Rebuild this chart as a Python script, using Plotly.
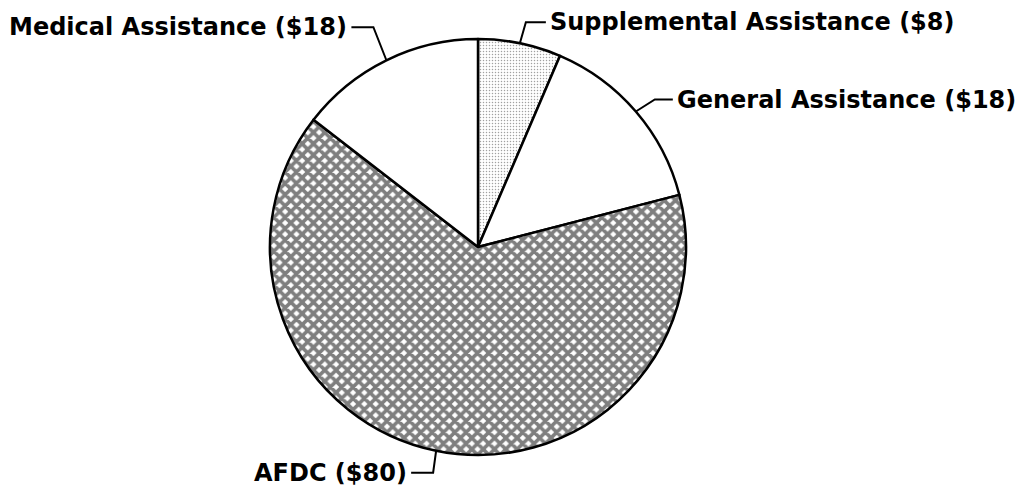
import math
import plotly.graph_objects as go

labels = ["Supplemental Assistance", "General Assistance", "AFDC", "Medical Assistance"]
values = [8, 18, 80, 18]
label_text = [f"{l} (${v})" for l, v in zip(labels, values)]

W, H = 1025, 492
OFF = 8  # page body margin offset
CX, CY, R = 478 - OFF, 247 - OFF, 208

pattern = dict(
    shape=[".", "", "x", ""],
    size=[3, 8, 8, 8],
    solidity=[0.2, 0.3, 0.7, 0.3],
    fgcolor=["#444444", "white", "black", "white"],
    bgcolor=["white", "white", "white", "white"],
    fillmode="overlay",
)

fig = go.Figure(go.Pie(
    labels=labels, values=values, sort=False, direction="clockwise", rotation=0,
    textinfo="none", hoverinfo="label+value",
    marker=dict(colors=["white"] * 4, pattern=pattern, line=dict(color="black", width=2.5)),
    domain=dict(x=[(CX - R) / W, (CX + R) / W], y=[(H - CY - R) / H, (H - CY + R) / H]),
    showlegend=False,
))

# leader geometry: (elbow dx, elbow dy, end dx, text anchor)
leader_style = [
    (6, -21, 20, "left"),
    (19, -12, 18, "left"),
    (-3, 22, -22, "right"),
    (-13, -33, -22, "right"),
]

def px(x):
    return x / W

def py(y):
    return 1 - y / H

total = sum(values)
cum = 0
shapes, annotations = [], []
for v, txt, (edx, edy, hx, anchor) in zip(values, label_text, leader_style):
    mid = (cum + v / 2) / total * 2 * math.pi
    cum += v
    x0 = CX + R * math.sin(mid)
    y0 = CY - R * math.cos(mid)
    x1, y1 = x0 + edx, y0 + edy
    x2 = x1 + hx
    path = f"M {px(x0)},{py(y0)} L {px(x1)},{py(y1)} L {px(x2)},{py(y1)}"
    shapes.append(dict(type="path", xref="paper", yref="paper", path=path,
                       line=dict(color="black", width=2)))
    annotations.append(dict(
        x=px(x2 + (2 if anchor == "left" else -2)), y=py(y1), xref="paper", yref="paper",
        text="<b>" + txt + "</b>", showarrow=False, xanchor=anchor, yanchor="middle",
        font=dict(family="DejaVu Sans, sans-serif", size=24, color="black"),
    ))

fig.update_layout(
    width=W, height=H, margin=dict(l=0, r=0, t=0, b=0),
    paper_bgcolor="white", plot_bgcolor="white",
    shapes=shapes, annotations=annotations,
)
fig.write_html("out.html")
